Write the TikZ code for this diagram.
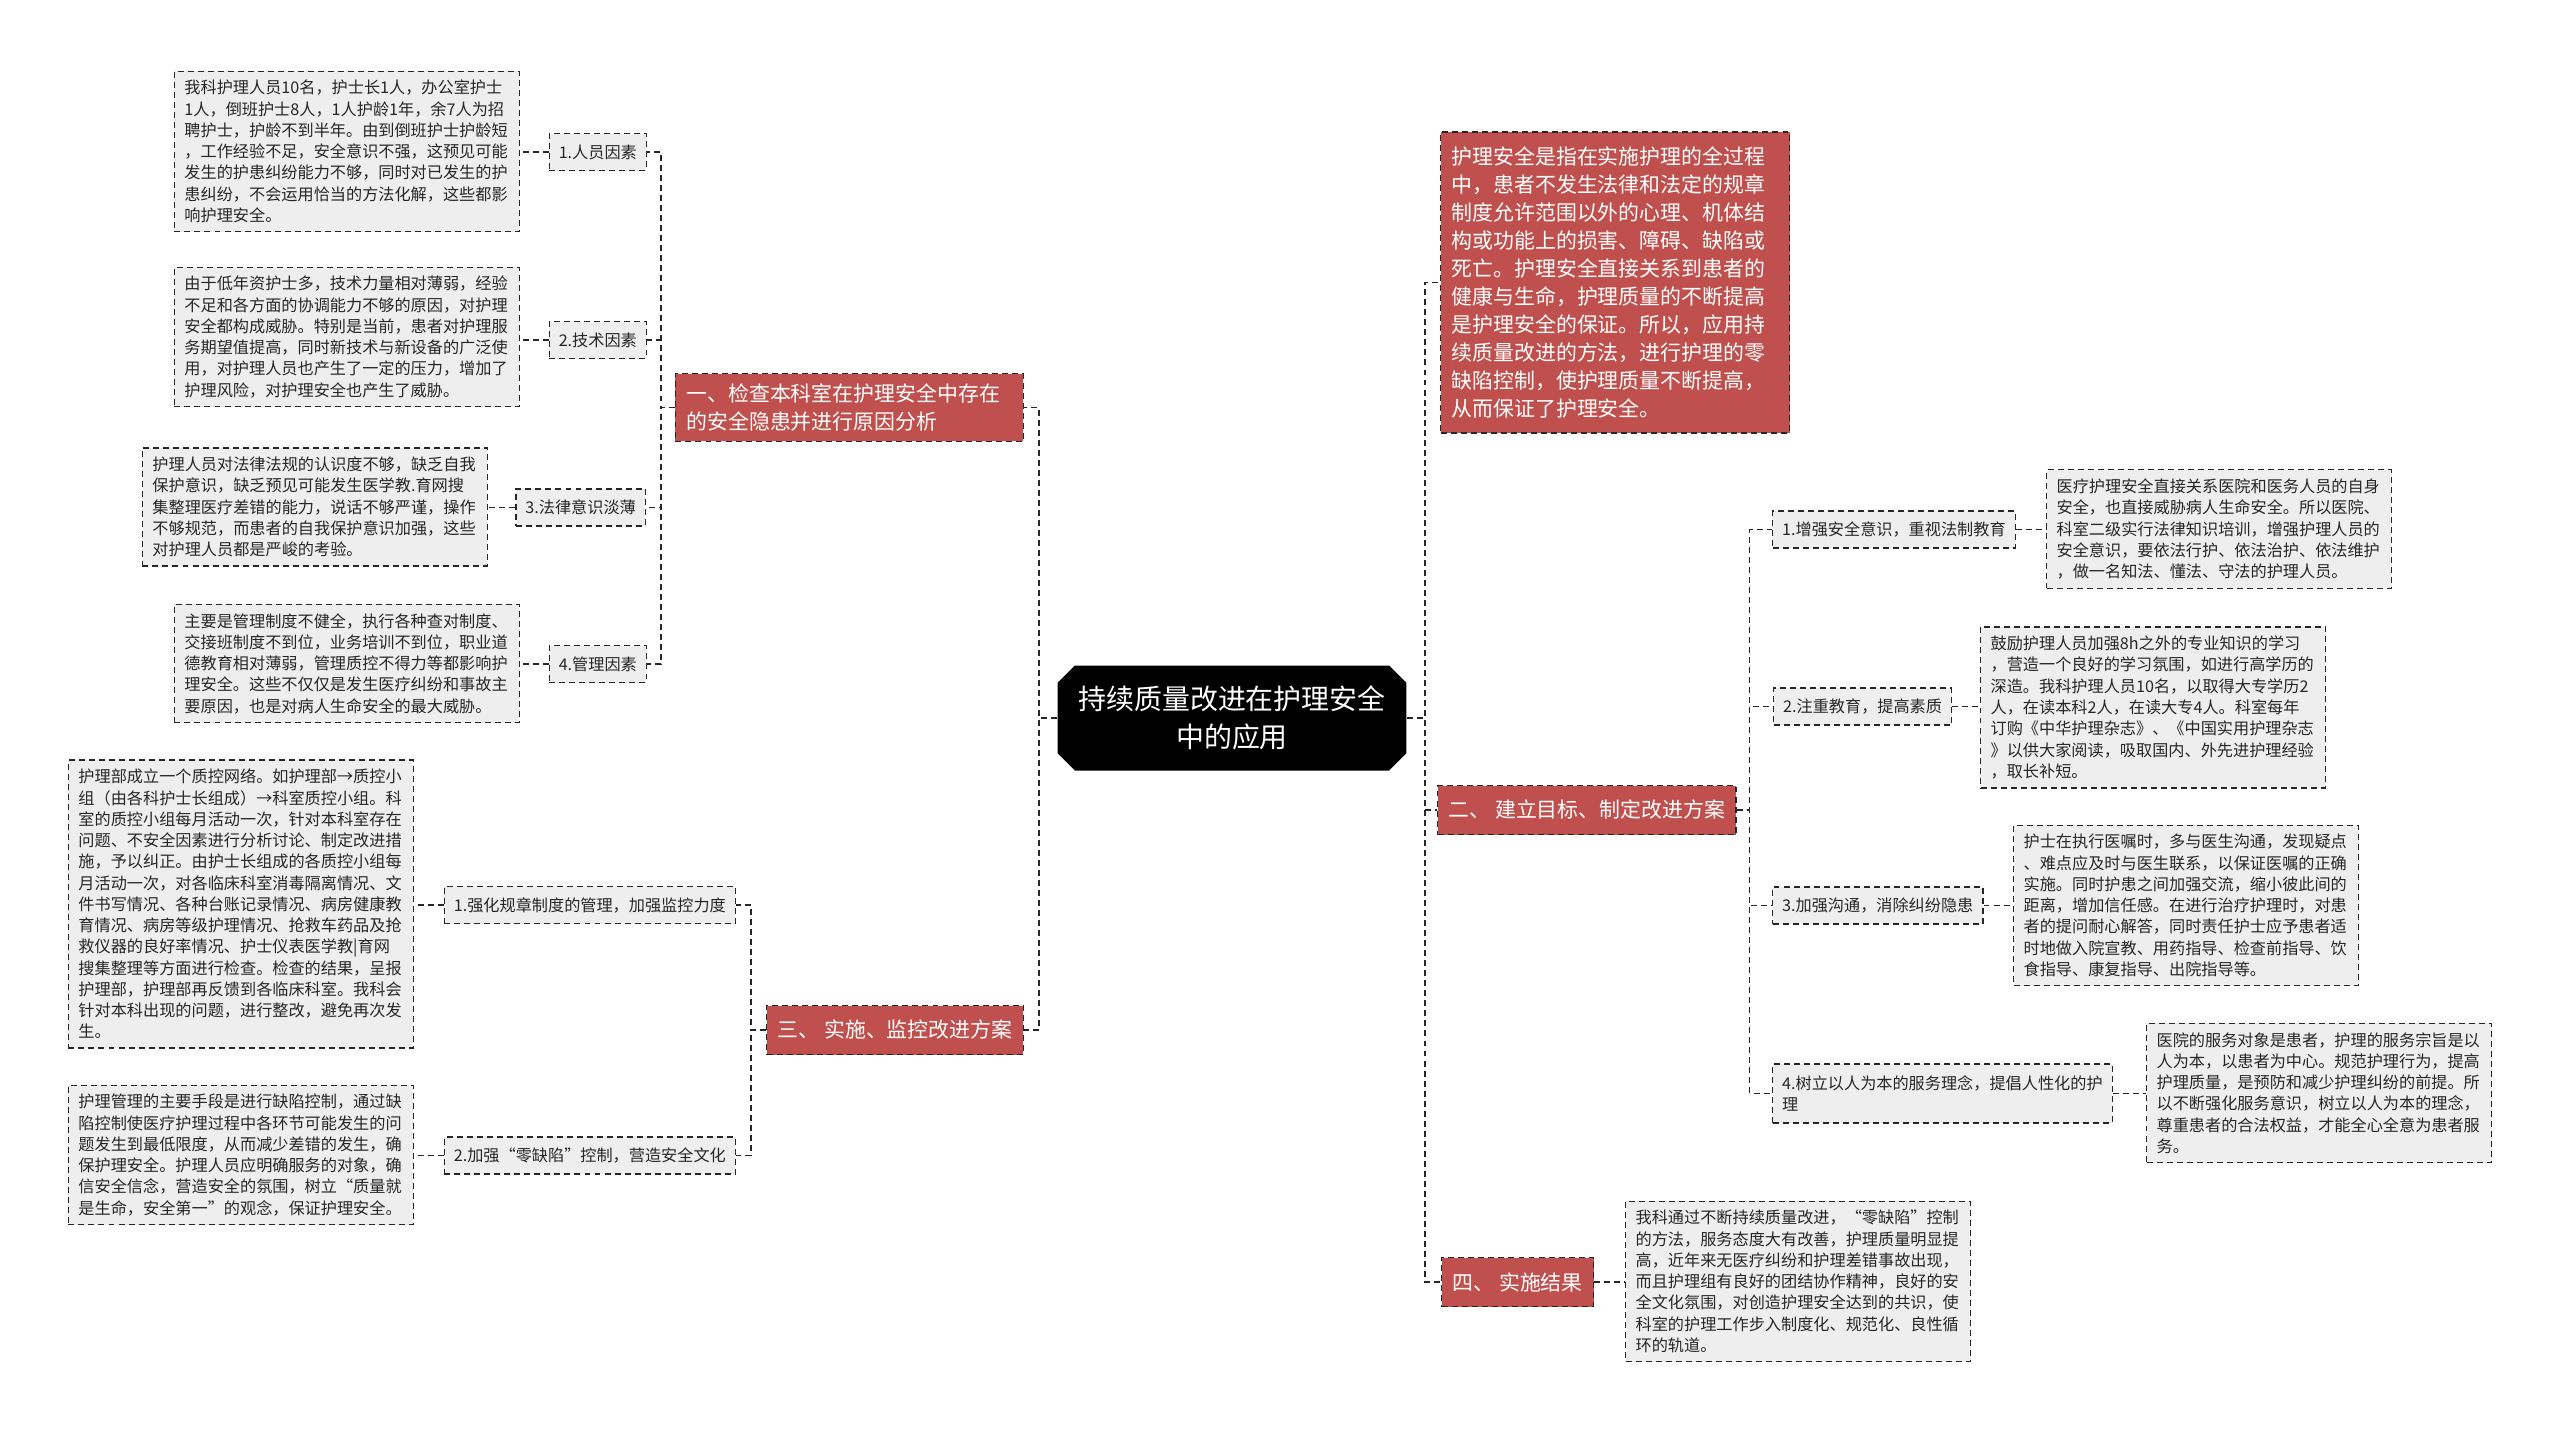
\documentclass[tikz,border=0pt]{standalone}
\usepackage{fontspec}
\setmainfont{Noto Sans CJK SC}
\usetikzlibrary{shapes.misc}
\definecolor{headred}{HTML}{C0504D}
\definecolor{notegray}{HTML}{EEEEEE}
\definecolor{inkgray}{HTML}{262626}

\begin{document}
\begin{tikzpicture}[x=0.02cm,y=-0.02cm,
  link/.style={inkgray, line width=0.8pt, dash pattern=on 3.4pt off 2.3pt},
  hub/.style={chamfered rectangle, chamfered rectangle xsep=0.22cm, fill=black, text=white, align=center, minimum width=6.98cm, minimum height=2.1cm, inner sep=0pt, font=\fontsize{15.9pt}{21.3pt}\selectfont},
  head/.style={fill=headred, draw=inkgray, line width=0.7pt, dash pattern=on 3.4pt off 2.3pt, text=white, align=left, inner xsep=0.22cm, inner ysep=0.2cm, minimum height=0.98cm, font=\fontsize{11.9pt}{15.9pt}\selectfont},
  tag/.style={fill=notegray, draw=inkgray, line width=0.7pt, dash pattern=on 3.4pt off 2.3pt, text=inkgray, align=left, inner xsep=0.19cm, minimum height=0.74cm, font=\fontsize{9.2pt}{12.1pt}\selectfont},
  note/.style={tag, text width=6.5cm, inner xsep=0.2cm, inner ysep=0.18cm}
]
\fill[white] (0,0) rectangle (2560,1434);
\useasboundingbox (0,0) rectangle (2560,1434);

\node[hub] (hub) at (1232,718) {持续质量改进在护理安全\\中的应用};

% left side
\node[head, anchor=east, text width=6.52cm] (h1) at (1024,407.5) {一、检查本科室在护理安全中存在\\的安全隐患并进行原因分析};
\node[head, anchor=east] (h3) at (1024,1030) {三、 实施、监控改进方案};

\node[tag, anchor=east] (l11) at (647,152) {1.人员因素};
\node[tag, anchor=east] (l12) at (647,340) {2.技术因素};
\node[tag, anchor=east] (l13) at (646,507.5) {3.法律意识淡薄};
\node[tag, anchor=east] (l14) at (647,664) {4.管理因素};
\node[tag, anchor=east] (l31) at (736,905) {1.强化规章制度的管理，加强监控力度};
\node[tag, anchor=east] (l32) at (736,1155.5) {2.加强“零缺陷”控制，营造安全文化};

\node[note, anchor=east] (t11) at (520,151.5) {我科护理人员10名，护士长1人，办公室护士\\1人，倒班护士8人，1人护龄1年，余7人为招\\聘护士，护龄不到半年。由到倒班护士护龄短\\，工作经验不足，安全意识不强，这预见可能\\发生的护患纠纷能力不够，同时对已发生的护\\患纠纷，不会运用恰当的方法化解，这些都影\\响护理安全。};
\node[note, anchor=east] (t12) at (520,337) {由于低年资护士多，技术力量相对薄弱，经验\\不足和各方面的协调能力不够的原因，对护理\\安全都构成威胁。特别是当前，患者对护理服\\务期望值提高，同时新技术与新设备的广泛使\\用，对护理人员也产生了一定的压力，增加了\\护理风险，对护理安全也产生了威胁。};
\node[note, anchor=east] (t13) at (488,507) {护理人员对法律法规的认识度不够，缺乏自我\\保护意识，缺乏预见可能发生医学教.育网搜\\集整理医疗差错的能力，说话不够严谨，操作\\不够规范，而患者的自我保护意识加强，这些\\对护理人员都是严峻的考验。};
\node[note, anchor=east] (t14) at (520,663.5) {主要是管理制度不健全，执行各种查对制度、\\交接班制度不到位，业务培训不到位，职业道\\德教育相对薄弱，管理质控不得力等都影响护\\理安全。这些不仅仅是发生医疗纠纷和事故主\\要原因，也是对病人生命安全的最大威胁。};
\node[note, anchor=east] (t31) at (414,904) {护理部成立一个质控网络。如护理部→质控小\\组（由各科护士长组成）→科室质控小组。科\\室的质控小组每月活动一次，针对本科室存在\\问题、不安全因素进行分析讨论、制定改进措\\施，予以纠正。由护士长组成的各质控小组每\\月活动一次，对各临床科室消毒隔离情况、文\\件书写情况、各种台账记录情况、病房健康教\\育情况、病房等级护理情况、抢救车药品及抢\\救仪器的良好率情况、护士仪表医学教|育网\\搜集整理等方面进行检查。检查的结果，呈报\\护理部，护理部再反馈到各临床科室。我科会\\针对本科出现的问题，进行整改，避免再次发\\生。};
\node[note, anchor=east] (t32) at (414,1155) {护理管理的主要手段是进行缺陷控制，通过缺\\陷控制使医疗护理过程中各环节可能发生的问\\题发生到最低限度，从而减少差错的发生，确\\保护理安全。护理人员应明确服务的对象，确\\信安全信念，营造安全的氛围，树立“质量就\\是生命，安全第一”的观念，保证护理安全。};

% right side
\node[head, anchor=west, text width=6.54cm, minimum height=6.02cm] (d) at (1440,282.5) {护理安全是指在实施护理的全过程\\中，患者不发生法律和法定的规章\\制度允许范围以外的心理、机体结\\构或功能上的损害、障碍、缺陷或\\死亡。护理安全直接关系到患者的\\健康与生命，护理质量的不断提高\\是护理安全的保证。所以，应用持\\续质量改进的方法，进行护理的零\\缺陷控制，使护理质量不断提高，\\从而保证了护理安全。};
\node[head, anchor=west] (h2) at (1437,810) {二、 建立目标、制定改进方案};
\node[head, anchor=west] (h4) at (1441,1282) {四、 实施结果};

\node[tag, anchor=west] (r1) at (1772,529.5) {1.增强安全意识，重视法制教育};
\node[tag, anchor=west] (r2) at (1773,706.5) {2.注重教育，提高素质};
\node[tag, anchor=west] (r3) at (1772,905.5) {3.加强沟通，消除纠纷隐患};
\node[tag, anchor=west, minimum height=1.18cm] (r4) at (1772,1093.5) {4.树立以人为本的服务理念，提倡人性化的护\\理};

\node[note, anchor=west] (rt1) at (2046,529) {医疗护理安全直接关系医院和医务人员的自身\\安全，也直接威胁病人生命安全。所以医院、\\科室二级实行法律知识培训，增强护理人员的\\安全意识，要依法行护、依法治护、依法维护\\，做一名知法、懂法、守法的护理人员。};
\node[note, anchor=west] (rt2) at (1980,707.5) {鼓励护理人员加强8h之外的专业知识的学习\\，营造一个良好的学习氛围，如进行高学历的\\深造。我科护理人员10名，以取得大专学历2\\人，在读本科2人，在读大专4人。科室每年\\订购《中华护理杂志》、《中国实用护理杂志\\》以供大家阅读，吸取国内、外先进护理经验\\，取长补短。};
\node[note, anchor=west] (rt3) at (2013,905.5) {护士在执行医嘱时，多与医生沟通，发现疑点\\、难点应及时与医生联系，以保证医嘱的正确\\实施。同时护患之间加强交流，缩小彼此间的\\距离，增加信任感。在进行治疗护理时，对患\\者的提问耐心解答，同时责任护士应予患者适\\时地做入院宣教、用药指导、检查前指导、饮\\食指导、康复指导、出院指导等。};
\node[note, anchor=west] (rt4) at (2146,1093) {医院的服务对象是患者，护理的服务宗旨是以\\人为本，以患者为中心。规范护理行为，提高\\护理质量，是预防和减少护理纠纷的前提。所\\以不断强化服务意识，树立以人为本的理念，\\尊重患者的合法权益，才能全心全意为患者服\\务。};
\node[note, anchor=west] (rt5) at (1625,1281.5) {我科通过不断持续质量改进，“零缺陷”控制\\的方法，服务态度大有改善，护理质量明显提\\高，近年来无医疗纠纷和护理差错事故出现，\\而且护理组有良好的团结协作精神，良好的安\\全文化氛围，对创造护理安全达到的共识，使\\科室的护理工作步入制度化、规范化、良性循\\环的轨道。};

% connectors
\foreach \n in {h1,h3}
  \draw[link] (hub.west) -- ++(-18,0) |- (\n.east);
\foreach \n in {d,h2,h4}
  \draw[link] (hub.east) -- ++(18,0) |- (\n.west);
\foreach \n in {l11,l12,l13,l14}
  \draw[link] (h1.west) -- ++(-14,0) |- (\n.east);
\foreach \n in {l31,l32}
  \draw[link] (h3.west) -- ++(-15,0) |- (\n.east);
\foreach \n in {r1,r2,r3,r4}
  \draw[link] (h2.east) -- ++(13,0) |- (\n.west);
\foreach \n/\m in {l11/t11,l12/t12,l13/t13,l14/t14,l31/t31,l32/t32}
  \draw[link] (\n.west) -- (\n.west -| \m.east);
\foreach \n/\m in {r1/rt1,r2/rt2,r3/rt3,r4/rt4,h4/rt5}
  \draw[link] (\n.east) -- (\n.east -| \m.west);
\end{tikzpicture}
\end{document}
